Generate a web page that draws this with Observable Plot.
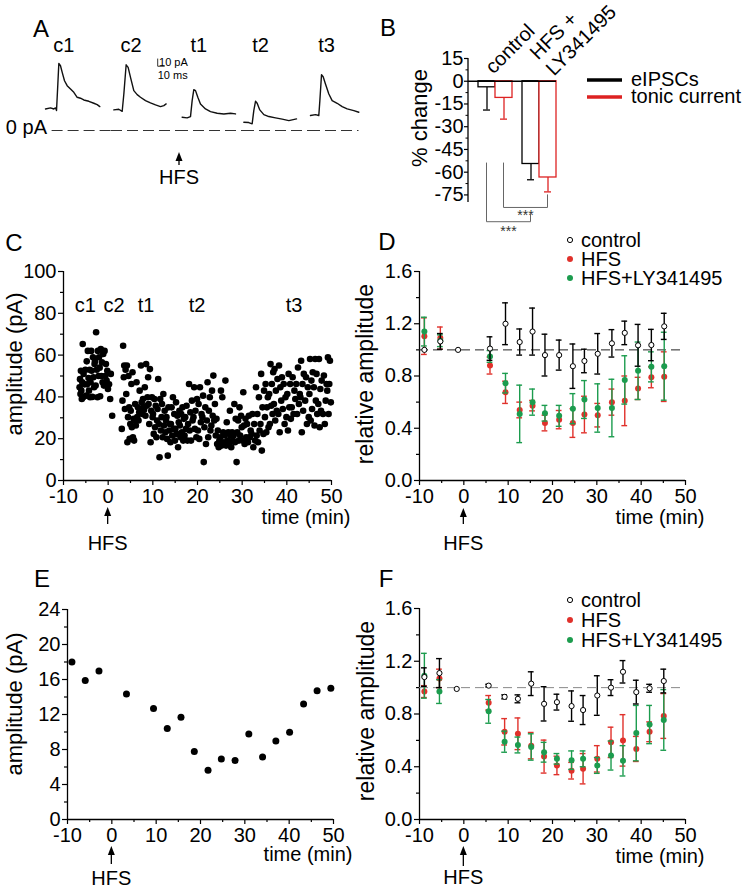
<!DOCTYPE html>
<html><head><meta charset="utf-8">
<script src="https://cdn.jsdelivr.net/npm/d3@7"></script>
<script src="https://cdn.jsdelivr.net/npm/@observablehq/plot@0.6"></script>
<style>
body{margin:0;background:#fff;}
#fig{position:relative;width:750px;height:892px;overflow:hidden;background:#fff;}
</style></head><body><div id="fig"></div>
<script>
const FONT = "'Liberation Sans', Arial, Helvetica, sans-serif";
const RED = "#e0312b", GREEN = "#1c9c4e", BRED = "#dd2222";

// ---------- Panel A: example traces (time in ms, current in pA) ----------
const sweeps = ["c1", "c2", "t1", "t2", "t3"];
const c1T = [0, 7.6, 12.6, 15.2, 16.7, 18.7, 20.2, 22.7, 25.3, 28.8, 32.8, 37.9, 42.9, 48, 53, 58, 65.7, 73.2, 78.3, 82.3];
const c1I = [29.5, 31, 29.5, 31, 27.3, 63.7, 91.9, 88.7, 79.6, 68.2, 61.4, 56.8, 52.3, 45.5, 44.2, 41.8, 40, 37.3, 35.5, 32.7];
const c2T = [3.5, 11, 16.2, 18.7, 22.2, 25.2, 28.8, 33.8, 38.9, 43.9, 51.5, 59, 66.7, 74.2, 79.3, 82.8];
const c2I = [28.2, 29.1, 26.3, 50, 90, 86.4, 72.7, 54.6, 49.1, 45.5, 40.9, 37.8, 35, 32.7, 34.1, 36.4];
const t1T = [7, 14.6, 19.7, 22.2, 24.7, 27.3, 30.8, 34.8, 42.4, 50, 60.1, 70.2, 80.3, 87.9];
const t1I = [18.2, 17.3, 19.1, 40.9, 55.9, 54.6, 45.5, 36.4, 29.6, 25.9, 23.6, 22.7, 23.6, 22.7];
const t2T = [0.5, 8, 13.1, 15.6, 18.2, 20.7, 24.7, 30.8, 38.4, 48.5, 58.6, 68.7, 80.3];
const t2I = [11.4, 10.9, 9.1, 27.3, 40, 37.3, 28.2, 21.8, 19.1, 17.3, 15.5, 13.6, 15.9];
const t3T = [1.5, 9.1, 14.1, 15.7, 18.2, 20.7, 24.2, 29.3, 34.3, 41.9, 49.5, 57.1, 67.2, 74.7];
const t3I = [20.5, 21.8, 20.5, 40.9, 76.4, 73.7, 63.7, 50, 40.9, 37.3, 32.7, 29.6, 27.3, 25];
const scaleBarPA = 10, scaleBarMS = 10;
const zeroLineMS = [10, 75]; // dashed 0 pA line: from 10 ms of first sweep to 75 ms of last sweep

// ---------- Panel B ----------
const bGroups = ["control", "HFS + LY341495"];
const bEipsc = [-4, -54.6], bEipscErr = [15, 10.4];
const bTonic = [-11, -63.5], bTonicErr = [14, 9.5];
const bTicks = [15, 0, -15, -30, -45, -60, -75];

// ---------- Panel C: eIPSC amplitude scatter [time (min), amplitude (pA)] ----------
const cPoints = [
[-6.4,44.6],[-6.3,48.5],[-6.2,41.4],[-6.1,52.5],[-6.0,43],[-5.9,39],[-5.8,47],[-5.7,65.3],[-5.6,39.8],[-5.5,51],[-5.3,46],[-5.1,53],
[-4.9,40.6],[-4.8,57],[-4.7,46],[-4.55,62],[-4.4,49],[-4.3,43],[-4.15,53],[-4.05,39.8],
[-3.95,47],[-3.8,62],[-3.7,52.5],[-3.55,40],[-3.4,59],[-3.3,49.4],[-3.15,44.6],[-3.05,55.7],
[-2.95,57],[-2.8,45.4],[-2.7,70.9],[-2.55,53],[-2.4,39.8],[-2.3,62],[-2.15,50],[-2.05,59],
[-1.9,54],[-1.8,40.3],[-1.65,62.9],[-1.5,50],[-1.4,56.5],[-1.25,47],[-1.1,60.5],
[-0.95,45.4],[-0.8,62],[-0.65,50],[-0.5,55.7],[-0.35,47.8],[-0.2,52.5],[-0.05,43.8],
[0.2,46],[0.45,39],[0.6,51],[0.9,31],
[3.05,24.7],[3.2,38.2],[3.35,64.5],[3.5,49.4],[3.6,55],[3.75,34.2],[3.9,53],
[4.05,41.4],[4.2,55],[4.3,18.3],[4.45,30.3],[4.55,50],[4.7,35],[4.8,19.9],[4.95,27],
[5.05,33.4],[5.2,46.2],[5.3,25.5],[5.45,51.8],[5.55,20.7],[5.7,29.5],[5.8,19.1],[5.95,28.7],
[6.05,36.6],[6.2,26.3],[6.35,47],[6.5,30.3],[6.65,35],[6.8,28.7],[6.95,32.6],
[7.05,43],[7.2,33.4],[7.35,55],[7.5,37.4],[7.65,31.8],[7.8,39],[7.95,35],
[8.05,33.8],[8.2,44.6],[8.35,31],[8.5,55.7],[8.65,35.8],[8.8,39.8],[8.95,49.4],
[9.05,36.6],[9.2,27],[9.35,53.3],[9.5,18.3],[9.65,33.4],[9.8,39.8],[9.95,30.3],
[10.05,31.8],[10.2,22.3],[10.35,39],[10.5,25.5],[10.65,35.8],[10.8,20.7],[10.95,28.7],
[11.05,34.2],[11.2,48.6],[11.35,27],[11.5,11.1],[11.65,39],[11.8,23.9],[11.95,30.3],
[12.05,36.6],[12.2,20.7],[12.35,41.4],[12.5,26.3],[12.65,33.4],[12.8,23.1],[12.95,28.7],
[13.05,30.3],[13.2,19.9],[13.35,11.9],[13.5,35],[13.65,23.9],[13.8,27],[13.95,18.3],
[14.05,27],[14.2,35],[14.35,21.5],[14.5,39.8],[14.65,24.7],[14.8,31.8],[14.95,19.1],
[15.05,24.7],[15.2,37.4],[15.35,22.3],[15.5,31],[15.65,15.9],[15.8,27.9],[15.95,33.4],
[16.05,26.3],[16.2,20.7],[16.35,31.8],[16.5,23.1],[16.65,35],[16.8,19.1],[16.95,29.5],
[17.1,21.5],[17.25,30.3],[17.4,24.7],[17.55,35.8],[17.75,19.1],[17.9,27],
[18.1,46.2],[18.25,23.9],[18.4,32.6],[18.55,19.1],[18.75,38.2],[18.9,28.7],
[19.1,30.3],[19.25,44.6],[19.4,24.7],[19.55,33.4],[19.75,20.7],[19.9,39],
[20.1,23.9],[20.25,36.6],[20.4,19.9],[20.55,44.6],[20.75,27.9],[20.9,31.8],
[21.1,30.3],[21.25,40.6],[21.4,8.8],[21.55,25.5],[21.75,35],[21.9,17.5],
[22.1,28.7],[22.25,47],[22.4,20.7],[22.55,33.4],[22.75,39.8],[22.9,23.9],
[23.1,26.3],[23.25,43],[23.4,31],[23.55,50.2],[23.75,28.7],[23.9,36.6],
[24.1,21.5],[24.25,29.5],[24.4,17.5],[24.55,23.9],[24.75,15.9],[24.9,19.1],
[25.1,20.7],[25.25,43],[25.4,16.7],[25.55,39.8],[25.75,23.1],[25.9,18.3],
[26.1,21.5],[26.25,47.8],[26.4,16.7],[26.55,27.9],[26.75,19.1],[26.9,23.1],
[27.1,17.5],[27.25,33.4],[27.4,21.5],[27.55,15.9],[27.75,23.1],[27.9,19.1],
[28.1,21.5],[28.25,36.6],[28.4,18.3],[28.55,29.5],[28.75,8.8],[28.9,23.1],
[29.1,28.7],[29.25,19.1],[29.4,35],[29.55,21.5],[29.75,31],[29.9,25.5],
[30.1,19.1],[30.25,42.2],[30.4,26.3],[30.55,17.5],[30.75,29.5],[30.9,20.7],
[31.1,27],[31.3,18.3],[31.5,31],[31.7,20.7],[31.9,23.9],
[32.1,22.3],[32.3,31.8],[32.5,15.9],[32.7,27],[32.9,19.1],
[33.1,44.6],[33.25,21.5],[33.4,31.8],[33.55,18.3],[33.75,39.8],[33.9,23.9],
[34.1,27],[34.25,51],[34.4,14.3],[34.55,35],[34.75,22.3],[34.9,43],
[35.1,30.3],[35.25,46.2],[35.4,23.1],[35.55,35],[35.75,39.8],[35.9,25.5],
[36.05,41.4],[36.2,27],[36.35,55.7],[36.5,35.8],[36.65,46.2],[36.8,31.8],[36.95,51.8],
[37.1,36.6],[37.25,53.3],[37.4,28.7],[37.55,43],[37.75,33.4],[37.9,48.6],
[38.1,31.8],[38.25,55],[38.4,23.1],[38.55,44.6],[38.75,38.2],[38.9,49.4],
[39.1,34.2],[39.3,46.2],[39.5,27],[39.7,39.8],[39.9,30.3],
[40.1,41.4],[40.25,23.9],[40.4,51],[40.55,35],[40.75,46.2],[40.9,29.5],
[41.1,35],[41.3,49.4],[41.5,31.8],[41.7,43],[41.9,39],
[42.1,46.2],[42.3,31.8],[42.5,54.1],[42.7,36.6],[42.9,41.4],
[43.05,39.8],[43.2,57.3],[43.35,23.1],[43.5,46.2],[43.65,33.4],[43.8,51],
[44.1,38.2],[44.3,49.4],[44.5,27],[44.7,44.6],[44.9,30.3],
[45.05,41.4],[45.2,58.1],[45.35,28.7],[45.5,47.8],[45.65,34.2],[45.8,51.8],
[46.05,44.6],[46.2,26.3],[46.35,58.1],[46.5,38.2],[46.65,51],[46.8,31.8],
[47.05,36.6],[47.2,58.1],[47.35,25.5],[47.5,43.8],[47.65,33.4],[47.8,47.8],
[48.1,31.8],[48.3,50.2],[48.5,27],[48.7,38.2],[48.9,46.2],
[49.05,43],[49.2,58.9],[49.35,31.8],[49.5,46.2],[49.65,57.3],[49.85,37.4]
];
const cLabelText = ["c1", "c2", "t1", "t2", "t3"];
const cLabelTime = [-5.1, 1.3, 8.5, 19.9, 41.6];
const cLabelAmp = 83.7;

// ---------- Panel D: relative eIPSC amplitude ----------
const dTime = [-8.9, -5.3, -1.3, 5.9, 9.4, 12.6, 15.5, 18.3, 21.5, 24.6, 27.2, 30.2, 33.4, 36.3, 39.3, 42.3, 45.2];
const dCtrl = [1.0, 1.065, 1.0, 1.01, 1.2, 1.06, 1.14, 0.96, 0.96, 0.875, 0.915, 0.97, 1.05, 1.13, 1.035, 1.037, 1.18];
const dCtrlErr = [0, 0.06, 0, 0.09, 0.16, 0.10, 0.18, 0.16, 0.115, 0.17, 0.09, 0.155, 0.105, 0.09, 0.16, 0.12, 0.10];
const dHfs = [1.105, 1.09, null, 0.88, 0.675, 0.54, 0.573, 0.44, 0.466, 0.44, 0.505, 0.50, 0.60, 0.61, 0.705, 0.79, 0.795];
const dHfsErr = [0.14, 0.085, null, 0.065, 0.085, 0.06, 0.04, 0.06, 0.07, 0.11, 0.14, 0.09, 0.10, 0.19, 0.085, 0.08, 0.19];
const dLy = [1.14, 1.07, null, 0.95, 0.745, 0.51, 0.60, 0.515, 0.495, 0.55, 0.62, 0.555, 0.555, 0.77, 0.84, 0.87, 0.875];
const dLyErr = [0.11, 0.045, null, 0.045, 0.075, 0.22, 0.10, 0.06, 0.08, 0.115, 0.145, 0.185, 0.22, 0.185, 0.22, 0.115, 0.26];

// ---------- Panel E: tonic current amplitude ----------
const eTime = [-9.0, -6.0, -2.9, 3.3, 9.4, 12.5, 15.6, 18.6, 21.7, 24.7, 27.8, 30.9, 34.0, 37.0, 40.1, 43.25, 46.3, 49.4];
const eAmp = [18.0, 15.9, 16.96, 14.34, 12.7, 10.4, 11.68, 7.76, 5.63, 6.92, 6.73, 9.78, 7.15, 8.98, 9.97, 13.2, 14.72, 14.99];

// ---------- Panel F: relative tonic current ----------
const fTime = [-8.9, -5.5, -1.6, 5.6, 9.2, 12.2, 15.2, 18.1, 21.0, 24.3, 26.9, 30.1, 33.2, 35.9, 38.9, 41.9, 45.1];
const fCtrl = [1.08, 1.11, 0.99, 1.015, 0.93, 0.915, 1.03, 0.877, 0.89, 0.86, 0.83, 0.94, 1.0, 1.12, 0.966, 0.995, 1.05];
const fCtrlErr = [0.07, 0.11, 0, 0.01, 0.015, 0.03, 0.09, 0.13, 0.06, 0.115, 0.11, 0.15, 0.06, 0.085, 0.09, 0.03, 0.09];
const fHfs = [0.97, 1.07, null, 0.885, 0.665, 0.65, 0.56, 0.477, 0.41, 0.37, 0.385, 0.46, 0.585, 0.60, 0.535, 0.665, 0.785];
const fHfsErr = [0.045, 0.07, null, 0.055, 0.10, 0.12, 0.10, 0.125, 0.07, 0.063, 0.115, 0.10, 0.115, 0.195, 0.095, 0.075, 0.17];
const fLy = [1.09, 0.97, null, 0.82, 0.59, 0.565, 0.55, 0.51, 0.46, 0.45, 0.46, 0.41, 0.485, 0.445, 0.655, 0.72, 0.755];
const fLyErr = [0.17, 0.09, null, 0.09, 0.08, 0.06, 0.10, 0.075, 0.04, 0.07, 0.06, 0.06, 0.11, 0.115, 0.21, 0.145, 0.23];

const timeMajor = [-10, 0, 10, 20, 30, 40, 50];
const timeMinor = [-5, 5, 15, 25, 35, 45];

// ================= drawing =================
const fig = document.getElementById("fig");
const baseStyle = {fontFamily: FONT, fontSize: "20px", color: "#000", background: "none", overflow: "visible"};
function place(el, left, top) {
  el.style.position = "absolute"; el.style.left = left + "px"; el.style.top = top + "px";
  el.style.maxWidth = "none";
  fig.appendChild(el);
  return el;
}
function axisMarks(yMajor, yMinor, yFmt) {
  return [
    Plot.axisX({ticks: timeMajor, tickSize: 5, tickPadding: 3, tickFormat: d => String(d), label: null, strokeWidth: 1.2}),
    Plot.axisX({ticks: timeMinor, tickSize: 3, tickFormat: () => "", label: null, strokeWidth: 1.2}),
    Plot.axisY({ticks: yMajor, tickSize: 5, tickPadding: 2, tickFormat: yFmt, label: null, strokeWidth: 1.2}),
    Plot.axisY({ticks: yMinor, tickSize: 3, tickFormat: () => "", label: null, strokeWidth: 1.2})
  ];
}
function drawArrow(sel, x, tipY, tailY, textY) {
  sel.append("line").attr("x1", x).attr("x2", x).attr("y1", tipY + 6).attr("y2", tailY)
    .attr("stroke", "#000").attr("stroke-width", 1.3);
  sel.append("path").attr("d", `M${x},${tipY}L${x - 3.5},${tipY + 9}L${x + 3.5},${tipY + 9}Z`).attr("fill", "#000");
  sel.append("text").attr("x", x).attr("y", textY + 7.2).attr("text-anchor", "middle")
    .attr("font-size", 20).attr("font-family", FONT).attr("fill", "#000").text("HFS");
}
function rows(T, V, E) {
  return T.map((t, i) => ({t, v: V[i], e: E[i]})).filter(d => d.v != null);
}
function seriesMarks(data, color, open) {
  const withErr = data.filter(d => d.e > 0);
  const caps = withErr.flatMap(d => [{t: d.t, y: d.v - d.e}, {t: d.t, y: d.v + d.e}]);
  return [
    Plot.ruleX(withErr, {x: "t", y1: d => d.v - d.e, y2: d => d.v + d.e, stroke: color, strokeWidth: 1.4}),
    Plot.ruleY(caps, {y: "y", x1: d => d.t - 0.65, x2: d => d.t + 0.65, stroke: color, strokeWidth: 1.4}),
    Plot.dot(data, {x: "t", y: "v", r: open ? 2.6 : 3, fill: open ? "#fff" : color, stroke: open ? "#000" : "none", strokeWidth: 1})
  ];
}
function timeLabel(dy) {
  return Plot.text(["time (min)"], {frameAnchor: "bottom-right", text: d => d, textAnchor: "end", dx: 19, dy, fontSize: 20});
}
// rotated y title (centre cx, cy) drawn into a plot's svg
function yTitle(svg, cx, cy, s, size) {
  d3.select(svg).append("text")
    .attr("transform", `translate(${cx + 0.355 * size},${cy}) rotate(-90)`)
    .attr("text-anchor", "middle").attr("font-size", size).attr("font-family", FONT).attr("fill", "#000").text(s);
}

// ---- Panel A ----
const traceRows = [];
[[c1T, c1I], [c2T, c2I], [t1T, t1I], [t2T, t2I], [t3T, t3I]].forEach(([T, I], k) =>
  T.forEach((t, i) => traceRows.push({sweep: sweeps[k], t, pA: I[i]})));
const peaks = sweeps.map(s => d3.greatest(traceRows.filter(r => r.sweep === s), r => r.pA));
const barOrigin = {sweep: "c2", t: 70, pA: 88};
const scaleBar = [
  {sweep: "c2", t: barOrigin.t, pA: barOrigin.pA + scaleBarPA},
  {sweep: "c2", t: barOrigin.t, pA: barOrigin.pA},
  {sweep: "c2", t: barOrigin.t + scaleBarMS, pA: barOrigin.pA}
];
const zeroSegments = sweeps.map((s, i) => ({
  sweep: s,
  x1: i === 0 ? zeroLineMS[0] : 0,
  x2: i === sweeps.length - 1 ? zeroLineMS[1] : 100
}));
const plotA = Plot.plot({
  width: 380, height: 200, marginLeft: 45, marginRight: 5, marginTop: 57, marginBottom: 70,
  style: baseStyle,
  fx: {domain: sweeps, padding: 0, axis: null},
  x: {domain: [0, 100], axis: null},
  y: {domain: [0, 100], axis: null},
  marks: [
    Plot.ruleY(zeroSegments, {fx: "sweep", y: () => 0, x1: "x1", x2: "x2", stroke: "#333", strokeWidth: 1, strokeDasharray: "11,5"}),
    Plot.line(traceRows, {fx: "sweep", x: "t", y: "pA", stroke: "#111", strokeWidth: 1.4}),
    Plot.text(peaks, {fx: "sweep", x: "t", text: "sweep", frameAnchor: "top", dy: -20, dx: 5, fontSize: 20}),
    Plot.line(scaleBar, {fx: "sweep", x: "t", y: "pA", stroke: "#333", strokeWidth: 1}),
    Plot.text([{sweep: "c2", t: barOrigin.t + 2, pA: barOrigin.pA + 5}], {fx: "sweep", x: "t", y: "pA", text: () => `${scaleBarPA} pA`, textAnchor: "start", fontSize: 11}),
    Plot.text([{sweep: "c2", t: barOrigin.t, pA: barOrigin.pA - 12}], {fx: "sweep", x: "t", y: "pA", text: () => `${scaleBarMS} ms`, textAnchor: "start", fontSize: 11})
  ]
});
place(plotA, 0, 0);

// ---- Panel B ----
const bE = bGroups.map((g, i) => ({g, v: bEipsc[i], e: bEipscErr[i]}));
const bT = bGroups.map((g, i) => ({g, v: bTonic[i], e: bTonicErr[i]}));
const plotB = Plot.plot({
  width: 370, height: 250, marginLeft: 88, marginRight: 194, marginTop: 58, marginBottom: 48,
  style: baseStyle,
  x: {type: "band", domain: bGroups, paddingInner: 0.2273, paddingOuter: 0.1136, align: 1, axis: null},
  y: {domain: [-80, 15], axis: null},
  marks: [
    Plot.axisY({ticks: bTicks, tickSize: 4, tickPadding: 1, tickFormat: d => String(d), label: null, strokeWidth: 1.2}),
    Plot.axisY({ticks: [7.5, -7.5, -22.5, -37.5, -52.5, -67.5], tickSize: 2.5, tickFormat: () => "", label: null, strokeWidth: 1}),
    Plot.ruleX(bE, {x: "g", y1: "v", y2: d => d.v - d.e, dx: -8.5, stroke: "#000", strokeWidth: 1.3}),
    Plot.ruleX(bT, {x: "g", y1: "v", y2: d => d.v - d.e, dx: 8.5, stroke: BRED, strokeWidth: 1.3}),
    Plot.tickY(bE, {x: "g", y: d => d.v - d.e, insetLeft: 5, insetRight: 22, stroke: "#000", strokeWidth: 1.3}),
    Plot.tickY(bT, {x: "g", y: d => d.v - d.e, insetLeft: 22, insetRight: 5, stroke: BRED, strokeWidth: 1.3}),
    Plot.barY(bE, {x: "g", y1: 0, y2: "v", insetRight: 17, fill: "#fff", stroke: "#000", strokeWidth: 1.3}),
    Plot.barY(bT, {x: "g", y1: 0, y2: "v", insetLeft: 17, fill: "#fff", stroke: BRED, strokeWidth: 1.3}),
    Plot.ruleY([0], {stroke: "#000", strokeWidth: 1.3})
  ]
});
place(plotB, 380, 0);
{
  const sx = plotB.scale("x"), sy = plotB.scale("y");
  const cx = g => sx.apply(g) + sx.bandwidth / 2;
  const y = v => sy.apply(v);
  const sel = d3.select(plotB);
  const g = sel.append("g").attr("fill", "none");
  g.append("line").attr("x1", 88).attr("x2", 88).attr("y1", y(15)).attr("y2", y(-80)).attr("stroke", "#000").attr("stroke-width", 1.3);
  const L = bGroups[0], R = bGroups[1];
  g.append("path").attr("d", `M${cx(L) - 8.5},${y(-54)}V${y(-93)}H${cx(R) - 8.5}V${y(-88)}`).attr("stroke", "#666").attr("stroke-width", 1);
  g.append("path").attr("d", `M${cx(L) + 8.5},${y(-54)}V${y(-83.6)}H${cx(R) + 8.5}V${y(-75)}`).attr("stroke", "#666").attr("stroke-width", 1);
  const t = sel.append("g").attr("font-family", FONT).attr("fill", "#333").attr("text-anchor", "middle");
  t.append("text").attr("x", (cx(L) + cx(R)) / 2 - 8.5).attr("y", y(-93) + 14).attr("font-size", 14).text("***");
  t.append("text").attr("x", (cx(L) + cx(R)) / 2 + 8.5).attr("y", y(-83.6) + 13).attr("font-size", 14).text("***");
  // rotated category labels (baseline starts)
  const lab = sel.append("g").attr("font-family", FONT).attr("font-size", 20).attr("fill", "#000").attr("text-anchor", "start");
  lab.append("text").attr("transform", `translate(${cx(L) - 1.5},${y(0) - 6}) rotate(-45)`).text("control");
  const [w1, w2] = ["HFS +", "LY341495"];
  lab.append("text").attr("transform", `translate(${cx(R) - 1},${y(0) - 20}) rotate(-45)`).text(w1);
  lab.append("text").attr("transform", `translate(${cx(R) + 15},${y(0) - 4}) rotate(-45)`).text(w2);
  yTitle(plotB, 419 - 380, 118, "% change", 22);
}

// ---- Panel C ----
const plotC = Plot.plot({
  width: 380, height: 300, marginLeft: 63, marginRight: 49, marginTop: 21, marginBottom: 70,
  style: baseStyle,
  x: {domain: [-10, 50]}, y: {domain: [0, 100]},
  marks: [
    ...axisMarks([0, 20, 40, 60, 80, 100], [10, 30, 50, 70, 90], d => String(d)),
    Plot.ruleY([0], {strokeWidth: 1.3}), Plot.ruleX([-10], {strokeWidth: 1.3}),
    Plot.dot(cPoints, {x: d => d[0], y: d => d[1], r: 3.3, fill: "#000"}),
    Plot.text(cLabelText, {x: (d, i) => cLabelTime[i], y: () => cLabelAmp, text: d => d, fontSize: 20}),
    timeLabel(43)
  ]
});
place(plotC, 0, 250);
yTitle(plotC, 14.5, 364 - 250, "amplitude (pA)", 22);
drawArrow(d3.select(plotC).append("g"), plotC.scale("x").apply(0), 230 + 27, 230 + 44, 230 + 63);

// ---- Panel D ----
const relMarks = (ctrl, hfs, ly, dash) => [
  ...axisMarks([0, 0.4, 0.8, 1.2, 1.6], [0.2, 0.6, 1.0, 1.4], d => d.toFixed(1)),
  Plot.ruleY([0], {strokeWidth: 1.3}), Plot.ruleX([-10], {strokeWidth: 1.3}),
  Plot.ruleY([1], {stroke: dash, strokeWidth: 1, strokeDasharray: "9,5"}),
  ...seriesMarks(hfs, RED, false),
  ...seriesMarks(ly, GREEN, false),
  ...seriesMarks(ctrl, "#000", true),
  timeLabel(43)
];
const plotD = Plot.plot({
  width: 370, height: 300, marginLeft: 39, marginRight: 65, marginTop: 21, marginBottom: 70,
  style: baseStyle,
  x: {domain: [-10, 50]}, y: {domain: [0, 1.6]},
  marks: relMarks(rows(dTime, dCtrl, dCtrlErr), rows(dTime, dHfs, dHfsErr), rows(dTime, dLy, dLyErr), "#222")
});
place(plotD, 380, 250);
yTitle(plotD, 365 - 380, 374 - 250, "relative amplitude", 23);
drawArrow(d3.select(plotD).append("g"), plotD.scale("x").apply(0), 230 + 28, 230 + 44, 230 + 63);

// ---- Panel E ----
const plotE = Plot.plot({
  width: 380, height: 362, marginLeft: 67, marginRight: 47, marginTop: 79, marginBottom: 73,
  style: baseStyle,
  x: {domain: [-10, 50]}, y: {domain: [0, 24]},
  marks: [
    ...axisMarks([0, 4, 8, 12, 16, 20, 24], [2, 6, 10, 14, 18, 22], d => String(d)),
    Plot.ruleY([0], {strokeWidth: 1.3}), Plot.ruleX([-10], {strokeWidth: 1.3}),
    Plot.dot(eTime.map((t, i) => ({t, a: eAmp[i]})), {x: "t", y: "a", r: 3.5, fill: "#000"}),
    timeLabel(41)
  ]
});
place(plotE, 0, 530);
yTitle(plotE, 14, 704 - 530, "amplitude (pA)", 22);
drawArrow(d3.select(plotE).append("g"), plotE.scale("x").apply(0), 289 + 27, 289 + 45, 289 + 59);

// ---- Panel F ----
const plotF = Plot.plot({
  width: 370, height: 362, marginLeft: 39, marginRight: 65, marginTop: 78, marginBottom: 73,
  style: baseStyle,
  x: {domain: [-10, 50]}, y: {domain: [0, 1.6]},
  marks: relMarks(rows(fTime, fCtrl, fCtrlErr), rows(fTime, fHfs, fHfsErr), rows(fTime, fLy, fLyErr), "#888")
});
place(plotF, 380, 530);
yTitle(plotF, 366 - 380, 711 - 530, "relative amplitude", 23);
drawArrow(d3.select(plotF).append("g"), plotF.scale("x").apply(0), 289 + 27, 289 + 47, 289 + 58);

// ---- overlay: panel letters, A annotations, legends ----
const ov = d3.create("svg").attr("width", 750).attr("height", 892)
  .style("font-family", FONT).style("pointer-events", "none").style("overflow", "visible");
function txt(x, cy, s, size, anchor = "start", fill = "#000") {
  ov.append("text").attr("x", x).attr("y", cy + 0.355 * size).attr("font-size", size)
    .attr("text-anchor", anchor).attr("fill", fill).text(s);
}
[["A", 41, 28], ["B", 388, 27], ["C", 14, 242], ["D", 387, 241], ["E", 42, 578], ["F", 386, 578]]
  .forEach(([s, x, y]) => txt(x, y, s, 24, "middle"));
txt(47, 127, "0 pA", 20, "end");
drawArrow(ov.append("g"), 179, 152, 165, 177);
// B legend
ov.append("line").attr("x1", 587).attr("x2", 622).attr("y1", 80).attr("y2", 80).attr("stroke", "#000").attr("stroke-width", 3.5);
ov.append("line").attr("x1", 587).attr("x2", 622).attr("y1", 97).attr("y2", 97).attr("stroke", BRED).attr("stroke-width", 3.5);
txt(631, 79, "eIPSCs", 20); txt(631, 96, "tonic current", 20);
// D & F legends
function legend(y0, step) {
  ov.append("circle").attr("cx", 570).attr("cy", y0).attr("r", 2.6).attr("fill", "#fff").attr("stroke", "#000").attr("stroke-width", 1);
  ov.append("circle").attr("cx", 570).attr("cy", y0 + step).attr("r", 3).attr("fill", RED);
  ov.append("circle").attr("cx", 570).attr("cy", y0 + 2 * step).attr("r", 3).attr("fill", GREEN);
  txt(581, y0, "control", 20); txt(581, y0 + step, "HFS", 20); txt(581, y0 + 2 * step, "HFS+LY341495", 20);
}
legend(240, 19);
legend(600, 20);
place(ov.node(), 0, 0);
</script></body></html>
